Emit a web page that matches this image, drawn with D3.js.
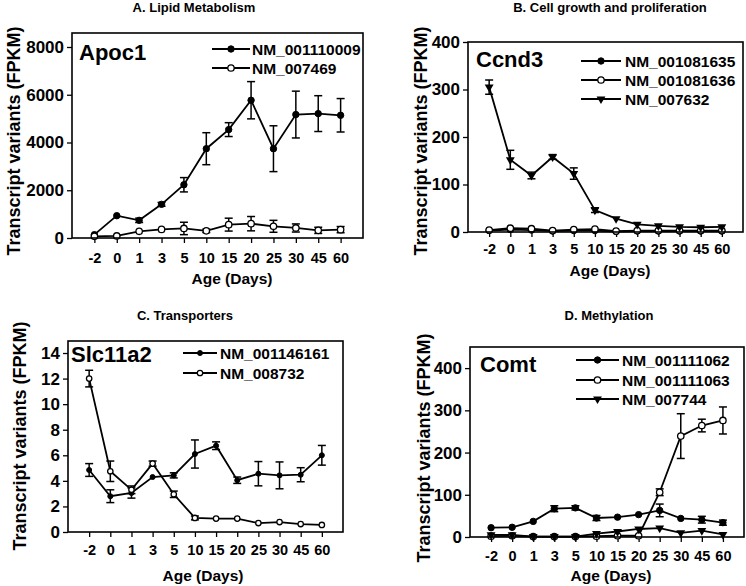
<!DOCTYPE html>
<html><head><meta charset="utf-8">
<script src="https://cdn.jsdelivr.net/npm/d3@7"></script>
<style>
html,body{margin:0;padding:0;background:#fff;}
text{font-family:"Liberation Sans",Arial,sans-serif;font-weight:bold;fill:#000;}
</style></head>
<body><svg id="c" width="746" height="586"></svg>
<script>
// ---- data ----
const days = ["-2","0","1","3","5","10","15","20","25","30","45","60"];

// A. Lipid Metabolism – Apoc1
const apocTicks = [0,2000,4000,6000,8000];
const apoc_NM_001110009 = [140,935,740,1410,2230,3740,4540,5770,3740,5170,5210,5140];
const apoc_NM_001110009_err = [50,50,90,80,300,670,290,780,960,980,750,700];
const apoc_NM_007469 = [70,85,280,360,400,300,560,600,490,420,320,350];
const apoc_NM_007469_err = [30,30,40,40,260,70,270,300,250,170,130,130];

// B. Cell growth and proliferation – Ccnd3
const ccndTicks = [0,100,200,300,400];
const ccnd_NM_001081635 = [3,5,4,2,3,3,1,2,2,2,2,2];
const ccnd_NM_001081635_err = [0,1,1,0,1,1,0,0,0,0,0,0];
const ccnd_NM_001081636 = [4,8,7,3,5,6,2,3,3,3,3,3];
const ccnd_NM_001081636_err = [0,1,1,0,1,1,0,0,0,0,0,0];
const ccnd_NM_007632 = [305,152,119,158,123,46,28,16,13,11,10,11];
const ccnd_NM_007632_err = [15,20,7,5,12,5,3,2,1,1,1,1];

// C. Transporters – Slc11a2
const slcTicks = [0,2,4,6,8,10,12,14];
const slc_NM_001146161 = [4.85,2.8,3.05,4.3,4.43,6.1,6.75,4.05,4.56,4.43,4.48,6.0];
const slc_NM_001146161_err = [0.5,0.5,0.4,0.1,0.2,1.1,0.3,0.25,0.95,1.05,0.55,0.77];
const slc_NM_008732 = [12.0,4.75,3.3,5.35,2.95,1.1,1.05,1.05,0.7,0.78,0.62,0.55];
const slc_NM_008732_err = [0.65,0.8,0.3,0.2,0.25,0.15,0.05,0.05,0.08,0.08,0.05,0.05];

// D. Methylation – Comt
const comtTicks = [0,100,200,300,400];
const comt_NM_001111062 = [22,23,37,67,69,45,47,53,63,44,41,34];
const comt_NM_001111062_err = [2,2,3,7,5,6,3,3,15,3,8,6];
const comt_NM_001111063 = [2,3,1,1,1,2,3,3,106,239,264,276];
const comt_NM_001111063_err = [0,0,0,0,0,0,0,0,8,53,15,32];
const comt_NM_007744 = [5,5,1,1,1,8,13,19,21,10,15,6];
const comt_NM_007744_err = [1,1,0,0,0,1,2,2,2,2,2,2];

// ---- layout (styling, not data) ----
const panels = [
  {title:"A. Lipid Metabolism", tx:194, ty:12, gene:"Apoc1", gx:79, gy:60,
   box:[72,33,363,238], ymax:8586, ticks:apocTicks,
   yt:[14,141], xt:[232,284], xl:263,
   leg:{x1:212,x2:250,tx:252,ys:[49,68]},
   series:[
     {name:"NM_001110009", v:apoc_NM_001110009, e:apoc_NM_001110009_err, sym:"dot"},
     {name:"NM_007469", v:apoc_NM_007469, e:apoc_NM_007469_err, sym:"open"}]},
  {title:"B. Cell growth and proliferation", tx:610, ty:12, gene:"Ccnd3", gx:476, gy:67,
   box:[468,42,743,232], ymax:400, ticks:ccndTicks,
   yt:[421,141], xt:[610,276], xl:254,
   leg:{x1:581,x2:621,tx:625,ys:[61,80,99]},
   series:[
     {name:"NM_001081635", v:ccnd_NM_001081635, e:ccnd_NM_001081635_err, sym:"dot"},
     {name:"NM_001081636", v:ccnd_NM_001081636, e:ccnd_NM_001081636_err, sym:"open"},
     {name:"NM_007632", v:ccnd_NM_007632, e:ccnd_NM_007632_err, sym:"tri"}]},
  {title:"C. Transporters", tx:185, ty:320, gene:"Slc11a2", gx:71, gy:362,
   box:[68,341,343,532], ymax:14.94, ticks:slcTicks,
   yt:[20,436], xt:[203,581], xl:555,
   leg:{x1:183,x2:217,tx:220,ys:[353,373]},
   series:[
     {name:"NM_001146161", v:slc_NM_001146161, e:slc_NM_001146161_err, sym:"smalldot"},
     {name:"NM_008732", v:slc_NM_008732, e:slc_NM_008732_err, sym:"smallopen"}]},
  {title:"D. Methylation", tx:609, ty:320, gene:"Comt", gx:480, gy:372,
   box:[470,347,744,537], ymax:450, ticks:comtTicks,
   yt:[424,448], xt:[611,581], xl:561,
   leg:{x1:576,x2:619,tx:622,ys:[360,380,399]},
   series:[
     {name:"NM_001111062", v:comt_NM_001111062, e:comt_NM_001111062_err, sym:"dot"},
     {name:"NM_001111063", v:comt_NM_001111063, e:comt_NM_001111063_err, sym:"open"},
     {name:"NM_007744", v:comt_NM_007744, e:comt_NM_007744_err, sym:"tri"}]}
];

const svg = d3.select("#c");

function drawSymbol(g, sym, x, y){
  if(sym==="dot" || sym==="smalldot"){
    g.append("circle").attr("cx",x).attr("cy",y).attr("r", sym==="dot"?3.2:2.5)
     .attr("fill","#000").attr("stroke","#000").attr("stroke-width",1);
  } else if(sym==="open" || sym==="smallopen"){
    g.append("circle").attr("cx",x).attr("cy",y).attr("r", sym==="open"?3.2:2.7)
     .attr("fill","#fff").attr("stroke","#000").attr("stroke-width",1.3);
  } else {
    g.append("path").attr("d", d3.symbol(d3.symbolTriangle, 34)())
     .attr("transform",`translate(${x},${y}) rotate(180)`)
     .attr("fill","#000");
  }
}

panels.forEach(p=>{
  const [L,T,R,B] = p.box;
  const x = d3.scalePoint().domain(days).range([L,R]).padding(1);
  const y = d3.scaleLinear().domain([0,p.ymax]).range([B,T]);
  const g = svg.append("g");

  // title
  g.append("text").attr("x",p.tx).attr("y",p.ty).attr("text-anchor","middle")
   .style("font-size","13px").text(p.title);

  // y axis
  const ya = g.append("g").attr("transform",`translate(${L},0)`)
    .call(d3.axisLeft(y).tickValues(p.ticks).tickSize(5).tickPadding(3).tickFormat(d3.format("d")));
  ya.select(".domain").remove();
  ya.selectAll("line").attr("stroke","#000").attr("stroke-width",1.3);
  ya.selectAll("text").style("font-size","17px").attr("font-family",null);

  // x axis
  const xa = g.append("g").attr("transform",`translate(0,${B})`)
    .call(d3.axisBottom(x).tickSize(5).tickPadding(0));
  xa.select(".domain").remove();
  xa.selectAll("line").attr("stroke","#000").attr("stroke-width",1.3);
  xa.selectAll("text").style("font-size","14.5px").attr("dy",null)
    .attr("y", p.xl - B).attr("font-family",null);

  // axis titles
  g.append("text").attr("transform",`translate(${p.yt[0]},${p.yt[1]}) rotate(-90)`)
   .attr("text-anchor","middle").attr("dy","0.36em").style("font-size","18px")
   .text("Transcript variants (FPKM)");
  g.append("text").attr("x",p.xt[0]).attr("y",p.xt[1]).attr("text-anchor","middle")
   .style("font-size","15.5px").text("Age (Days)");

  // series
  const line = d3.line().x((d,i)=>x(days[i])).y(d=>y(d));
  p.series.forEach(s=>{
    g.append("path").attr("d",line(s.v)).attr("fill","none")
     .attr("stroke","#000").attr("stroke-width",1.8);
  });
  p.series.forEach(s=>{
    s.v.forEach((v,i)=>{
      const e = s.e[i]; if(!e) return;
      const cx = x(days[i]), y1=y(v+e), y2=y(Math.max(0,v-e));
      if (y2-y1 < 3) return;
      g.append("line").attr("x1",cx).attr("x2",cx).attr("y1",y1).attr("y2",y2)
       .attr("stroke","#000").attr("stroke-width",1.5);
      [y1,y2].forEach(yy=>g.append("line").attr("x1",cx-4).attr("x2",cx+4)
       .attr("y1",yy).attr("y2",yy).attr("stroke","#000").attr("stroke-width",1.5));
    });
  });
  p.series.forEach(s=>{
    s.v.forEach((v,i)=>drawSymbol(g, s.sym, x(days[i]), y(v)));
  });

  // frame
  g.append("rect").attr("x",L).attr("y",T).attr("width",R-L).attr("height",B-T)
   .attr("fill","none").attr("stroke","#000").attr("stroke-width",1.6);

  // gene label
  g.append("text").attr("x",p.gx).attr("y",p.gy).style("font-size","22px").text(p.gene);

  // legend
  p.series.forEach((s,i)=>{
    const ly = p.leg.ys[i];
    g.append("line").attr("x1",p.leg.x1).attr("x2",p.leg.x2).attr("y1",ly).attr("y2",ly)
     .attr("stroke","#000").attr("stroke-width",1.8);
    drawSymbol(g, s.sym, (p.leg.x1+p.leg.x2)/2, ly);
    g.append("text").attr("x",p.leg.tx).attr("y",ly).attr("dy","0.36em")
     .style("font-size","15.5px").text(s.name);
  });
});
</script></body></html>
